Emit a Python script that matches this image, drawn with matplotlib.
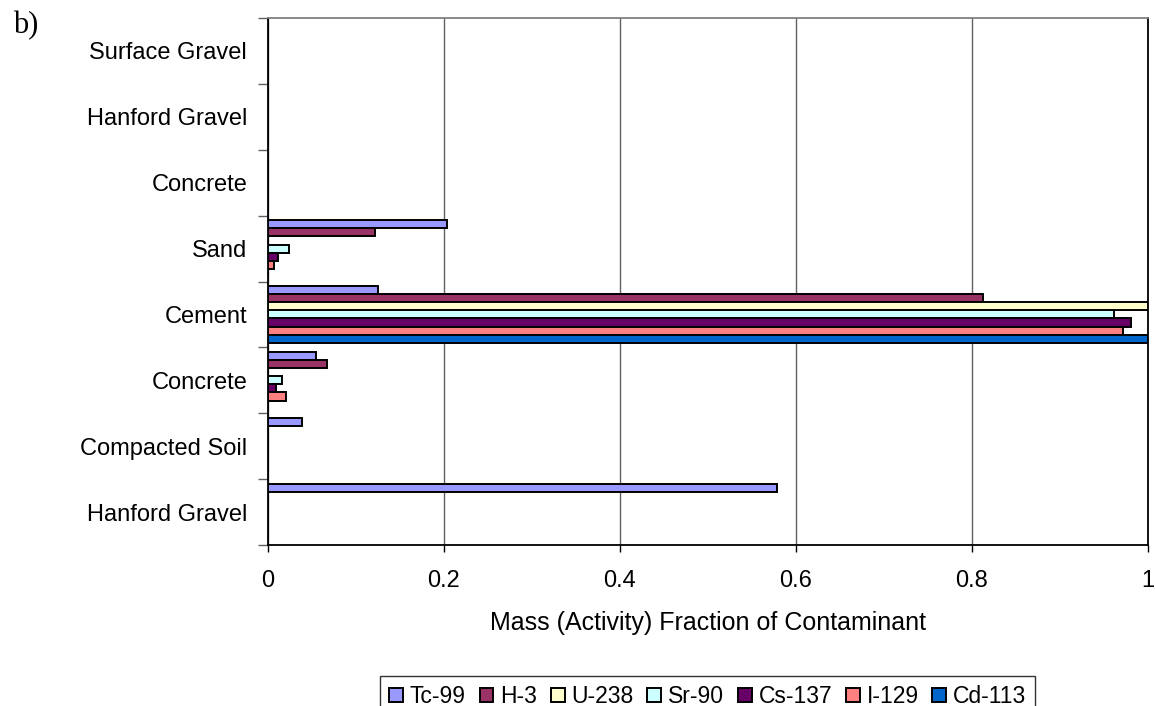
import matplotlib
matplotlib.use('Agg')
import matplotlib.pyplot as plt
import numpy as np

plt.rcParams['font.family'] = ['Liberation Sans', 'DejaVu Sans']

# categories, bottom to top
categories = ['Hanford Gravel', 'Compacted Soil', 'Concrete', 'Cement',
              'Sand', 'Concrete', 'Hanford Gravel', 'Surface Gravel']

series_names = ['Tc-99', 'H-3', 'U-238', 'Sr-90', 'Cs-137', 'I-129', 'Cd-113']
series_colors = ['#9999FF', '#993366', '#FFFFCC', '#CCFFFF', '#660066', '#FF8080', '#0066CC']

# values per series, same order as categories
tc99 = [0.578, 0.039, 0.054, 0.125, 0.203, 0, 0, 0]
h3 = [0, 0, 0.067, 0.812, 0.122, 0, 0, 0]
u238 = [0, 0, 0, 1.0, 0, 0, 0, 0]
sr90 = [0, 0, 0.0155, 0.961, 0.024, 0, 0, 0]
cs137 = [0, 0, 0.009, 0.981, 0.011, 0, 0, 0]
i129 = [0, 0, 0.020, 0.972, 0.007, 0, 0, 0]
cd113 = [0, 0, 0, 1.0, 0, 0, 0, 0]
series_vals = [tc99, h3, u238, sr90, cs137, i129, cd113]

fig = plt.figure(figsize=(11.55, 7.06), dpi=100)
ax = fig.add_axes([268/1155, 1-545/706, 880/1155, 527/706])

n = len(series_names)
group = 0.86
bh = group / n
centers = np.arange(len(categories)) + 0.5
for i, (name, vals, col) in enumerate(zip(series_names, series_vals, series_colors)):
    y = centers + group/2 - (i + 0.5)*bh
    ax.barh(y, vals, height=bh, color=col, edgecolor='black', linewidth=1.4,
            label=name, zorder=3)

ax.set_xlim(0, 1)
ax.set_ylim(0, len(categories))

# x axis
ax.set_xticks(np.arange(0, 1.01, 0.2))
ax.set_xticklabels(['0', '0.2', '0.4', '0.6', '0.8', '1'])
ax.tick_params(axis='x', direction='out', length=5, width=1, pad=13, labelsize=17)
ax.xaxis.grid(True, color='#606060', linewidth=1, zorder=0)
ax.set_xlabel('Mass (Activity) Fraction of Contaminant', fontsize=18, labelpad=14)

# y axis: ticks between categories, labels centered
ax.set_yticks(np.arange(0, len(categories)+1))
ax.set_yticklabels([])
ax.set_yticks(centers, minor=True)
ax.set_yticklabels(categories, minor=True)
ax.tick_params(axis='y', which='major', direction='out', length=7, width=1, color='#606060')
ax.tick_params(axis='y', which='minor', length=0, pad=15, labelsize=17)

for s in ['left', 'bottom', 'right']:
    ax.spines[s].set_color('black')
    ax.spines[s].set_linewidth(1.3)
ax.spines['top'].set_color('#808080')
ax.spines['top'].set_linewidth(1.3)

fig.text(13/1155, 1-26/706, 'b)', fontsize=22, family='Liberation Serif', va='center', ha='left')

leg = fig.legend(loc='upper left', bbox_to_anchor=(380/1155, 1-676/706), ncol=7,
                 frameon=True, fancybox=False, edgecolor='black', fontsize=16.5,
                 handlelength=0.6, handleheight=0.6, handletextpad=0.3,
                 columnspacing=0.6, borderpad=0.4, borderaxespad=0)
leg.get_frame().set_linewidth(1.0)

fig.savefig('out.png', dpi=100)
